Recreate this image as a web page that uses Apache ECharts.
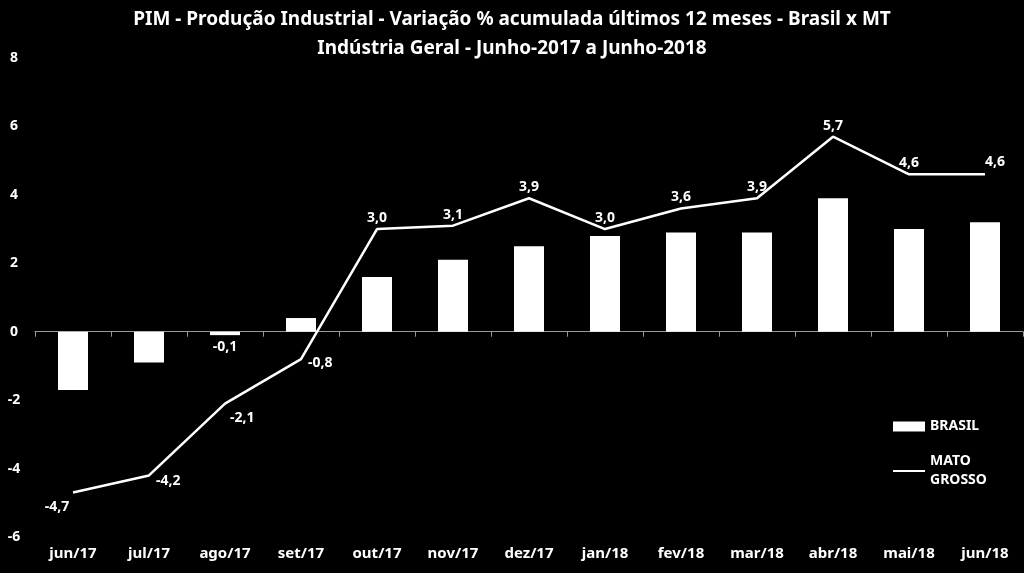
<!DOCTYPE html>
<html>
<head>
<meta charset="utf-8">
<script src="https://cdn.jsdelivr.net/npm/echarts@6/dist/echarts.min.js"></script>
<style>
  html, body { margin: 0; padding: 0; background: #000; }
  #chart { width: 1024px; height: 573px; }
</style>
</head>
<body>
<div id="chart"></div>
<script>
// dados
const meses = ['jun/17', 'jul/17', 'ago/17', 'set/17', 'out/17', 'nov/17', 'dez/17',
  'jan/18', 'fev/18', 'mar/18', 'abr/18', 'mai/18', 'jun/18']
const brasil = [-1.7, -0.9, -0.1, 0.4, 1.6, 2.1, 2.5, 2.8, 2.9, 2.9, 3.9, 3.0, 3.2]
const matoGrosso = [-4.7, -4.2, -2.1, -0.8, 3.0, 3.1, 3.9, 3.0, 3.6, 3.9, 5.7, 4.6, 4.6]
const yTicks = [-6, -4, -2, 0, 2, 4, 6, 8]

const fonte = 'Noto Sans'
const fmt = v => v.toFixed(1).replace('.', ',')

// posição dos rótulos da linha (ajustes manuais)
const labelPos = i => {
  if (i === 0) return { position: 'bottom', offset: [-16, 2] }
  if (i === 1) return { position: 'right', offset: [2, 6] }
  if (i === 2) return { position: 'right', offset: [0, 14] }
  if (i === 3) return { position: 'right', offset: [2, 4] }
  if (i === meses.length - 1) return { position: 'top', offset: [10, 0] }
  return { position: 'top', distance: 4 }
}

const chart = echarts.init(document.getElementById('chart'))
chart.setOption({
  backgroundColor: '#000',
  animation: false,
  title: {
    text: 'PIM - Produção Industrial - Variação % acumulada últimos 12 meses - Brasil x MT\nIndústria Geral - Junho-2017 a Junho-2018',
    left: 'center',
    top: 0,
    textStyle: { color: '#fff', fontFamily: fonte, fontWeight: 'bold', fontSize: 19, lineHeight: 29 }
  },
  legend: {
    orient: 'vertical',
    left: 888,
    top: 412,
    itemGap: 16,
    itemWidth: 32,
    itemHeight: 10,
    formatter: n => n === 'MATO GROSSO' ? 'MATO\nGROSSO' : n,
    textStyle: { color: '#fff', fontFamily: fonte, fontWeight: 'bold', fontSize: 14, lineHeight: 19 },
    data: [
      { name: 'BRASIL', icon: 'rect' },
      { name: 'MATO GROSSO', icon: 'path://M0,0 L32,0 L32,2 L0,2 Z' }
    ]
  },
  grid: { left: 35, right: 1, top: 58, bottom: 36 },
  xAxis: [
    {
      type: 'category',
      data: meses,
      position: 'bottom',
      axisLine: { show: false, onZero: false },
      axisTick: { show: false },
      axisLabel: { color: '#fff', fontFamily: fonte, fontWeight: 'bold', fontSize: 15, margin: 9 }
    },
    {
      type: 'category',
      data: meses,
      position: 'bottom',
      axisLine: { onZero: true, lineStyle: { color: '#999', width: 1 } },
      axisTick: { show: true, lineStyle: { color: '#999' }, length: 5 },
      axisLabel: { show: false }
    }
  ],
  yAxis: {
    type: 'value',
    min: yTicks[0],
    max: yTicks[yTicks.length - 1],
    interval: 2,
    splitLine: { show: false },
    axisLine: { show: false },
    axisTick: { show: false },
    axisLabel: { color: '#fff', fontFamily: fonte, fontWeight: 'bold', fontSize: 14, align: 'center', margin: 21 }
  },
  series: [
    {
      name: 'BRASIL',
      type: 'bar',
      xAxisIndex: 1,
      barWidth: 30,
      itemStyle: { color: '#fff' },
      data: brasil.map((v, i) => ({
        value: v,
        label: {
          show: i === 2,
          position: 'bottom',
          formatter: p => fmt(p.value),
          color: '#fff', fontFamily: fonte, fontWeight: 'bold', fontSize: 14
        }
      }))
    },
    {
      name: 'MATO GROSSO',
      type: 'line',
      xAxisIndex: 1,
      symbol: 'circle',
      symbolSize: 0.1,
      lineStyle: { color: '#fff', width: 2.5 },
      itemStyle: { color: '#fff' },
      data: matoGrosso.map((v, i) => ({
        value: v,
        label: Object.assign({
          show: true,
          formatter: p => fmt(p.value),
          color: '#fff', fontFamily: fonte, fontWeight: 'bold', fontSize: 14
        }, labelPos(i))
      }))
    }
  ]
})
</script>
</body>
</html>
